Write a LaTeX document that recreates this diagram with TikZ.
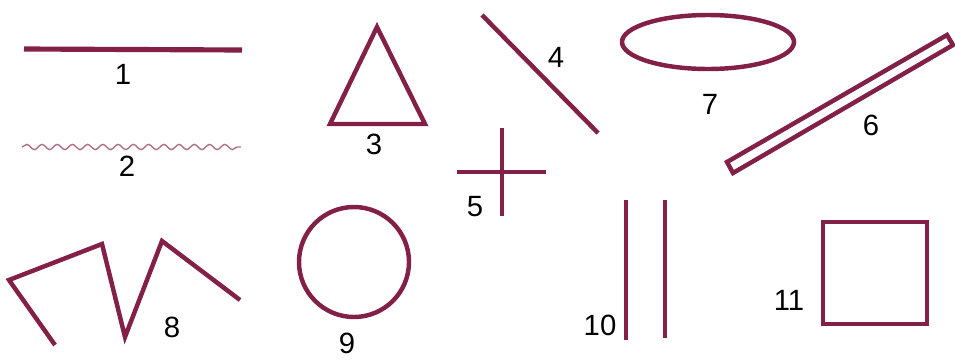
\documentclass[tikz,border=0pt]{standalone}
\usepackage{fontspec}
\setmainfont{Liberation Sans}
\usetikzlibrary{decorations.pathmorphing}
\definecolor{maroon}{RGB}{130,32,72}
\definecolor{lightmaroon}{RGB}{176,112,136}

\begin{document}
\begin{tikzpicture}[
  x=0.03cm,y=-0.03cm,
  figline/.style={draw=maroon,line width=3.8pt,line join=miter},
  waveline/.style={draw=lightmaroon,line width=1.2pt,
                   decorate,decoration={snake,segment length=13,amplitude=2.2}},
  num/.style={font=\fontsize{25}{28}\selectfont,text=black,inner sep=0pt}
]
\useasboundingbox (0,0) rectangle (955,359);
% 1: straight line
\draw[figline,line width=4.4pt] (24,49) -- (242,50);
\node[num] (n1) at (123,74) {1};
% 2: wavy line
\draw[waveline] (22,147) -- (241,147);
\node[num] (n2) at (127,166) {2};
% 3: triangle
\draw[figline] (377,27) -- (425,124) -- (330,124) -- cycle;
\node[num] (n3) at (374,144) {3};
% 4: slanted line
\draw[figline] (482,15) -- (598,133);
\node[num] (n4) at (556,57) {4};
% 5: cross
\draw[figline] (457,172) -- (546,172);
\draw[figline] (502,128) -- (502,216);
\node[num] (n5) at (475,207) {5};
% 7: ellipse
\draw[figline] (708,42) ellipse [x radius=86, y radius=27];
\node[num] (n7) at (710,104) {7};
% 6: thin bar
\draw[figline] (727,162) -- (947,35) -- (953,45) -- (733,173) -- cycle;
\node[num] (n6) at (871,125) {6};
% 8: broken line
\draw[figline] (55,345) -- (9,280) -- (102,244) -- (125,337) -- (162,241) -- (240,300);
\node[num] (n8) at (172,327) {8};
% 9: circle
\draw[figline] (354,262) circle [radius=55];
\node[num] (n9) at (347,343) {9};
% 10: parallel lines
\draw[figline] (626,200) -- (626,340);
\draw[figline] (665,200) -- (665,338);
\node[num] (n10) at (600,325) {10};
% 11: square
\draw[figline] (823,222) rectangle (927,324);
\node[num] (n11) at (789,300) {11};
\end{tikzpicture}
\end{document}
